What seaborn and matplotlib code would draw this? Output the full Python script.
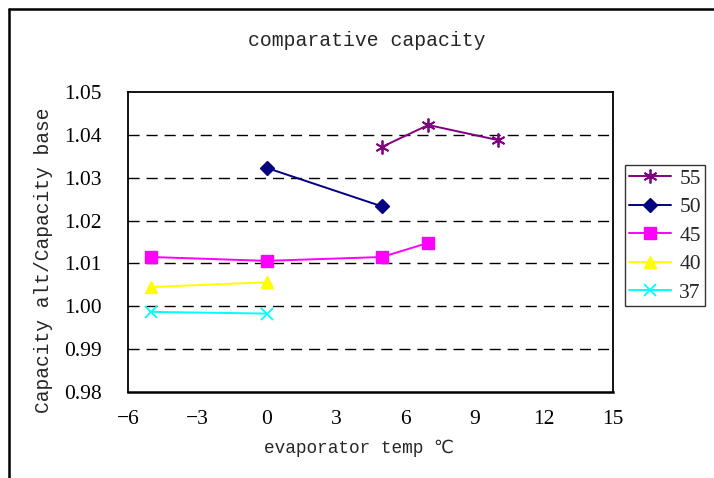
import matplotlib
matplotlib.use("Agg")
import matplotlib.pyplot as plt
from matplotlib.lines import Line2D
import seaborn as sns
import pandas as pd

sns.set_theme(style="white")
plt.rcParams["font.family"] = ["Liberation Serif", "DejaVu Sans"]

# condensing temperature series: evaporator temp (°C) vs capacity ratio
series_names = ["55", "50", "45", "40", "37"]
temps_55 = [5, 7, 10]
ratio_55 = [1.0372, 1.0423, 1.0388]
temps_50 = [0, 5]
ratio_50 = [1.0323, 1.0233]
temps_45 = [-5, 0, 5, 7]
ratio_45 = [1.0115, 1.0106, 1.0115, 1.0148]
temps_40 = [-5, 0]
ratio_40 = [1.0045, 1.0056]
temps_37 = [-5, 0]
ratio_37 = [0.9987, 0.9983]

x_ticks = [-6, -3, 0, 3, 6, 9, 12, 15]
y_ticks = [0.98, 0.99, 1.00, 1.01, 1.02, 1.03, 1.04, 1.05]

series = {
    "55": (temps_55, ratio_55),
    "50": (temps_50, ratio_50),
    "45": (temps_45, ratio_45),
    "40": (temps_40, ratio_40),
    "37": (temps_37, ratio_37),
}
colors = {"55": "#800080", "50": "#000080", "45": "#FF00FF",
          "40": "#FFFF00", "37": "#00FFFF"}
markers = {"55": (6, 2, 0), "50": "D", "45": "s", "40": "^", "37": "x"}
msizes = {"55": 10, "50": 7, "45": 8, "40": 9, "37": 9}
mews = {"55": 1.3, "50": 1.0, "45": 1.0, "40": 1.0, "37": 1.3}

fig = plt.figure(figsize=(7.14, 4.78), dpi=100)
fig.patch.set_facecolor("white")
ax = fig.add_axes([128 / 714, 1 - 392 / 478, (613 - 128) / 714, (392 - 92) / 478])

for name in series_names:
    xs, ys = series[name]
    df = pd.DataFrame({"temp": xs, "ratio": ys})
    sns.lineplot(data=df, x="temp", y="ratio", ax=ax, color=colors[name],
                 marker=markers[name], markersize=msizes[name],
                 markeredgecolor=colors[name], markerfacecolor=colors[name],
                 markeredgewidth=mews[name], linewidth=1.4, sort=False,
                 estimator=None, label=name)

ax.set_xlim(-6, 15)
ax.set_ylim(0.98, 1.05)
ax.set_xticks(x_ticks)
ax.set_xticklabels([f"{t}".replace("-", "\u2212") for t in x_ticks])
ax.set_yticks(y_ticks)
ax.set_yticklabels([f"{t:.2f}" for t in y_ticks])
ax.set_xlabel("")
ax.set_ylabel("")

for yv in y_ticks[1:-1]:
    ax.axhline(yv, color="black", linewidth=1.0, linestyle=(0, (8, 5)), zorder=0)

for side in ["left", "bottom", "right", "top"]:
    ax.spines[side].set_color("black")
    ax.spines[side].set_linewidth(1.3)
ax.spines["bottom"].set_linewidth(1.8)

ax.tick_params(axis="both", direction="in", length=5, width=1.0, color="#333333",
               labelsize=15.5, labelcolor="black")
ax.tick_params(axis="x", pad=13, top=False)
ax.tick_params(axis="y", pad=19, right=False)

mono = ["Liberation Mono", "DejaVu Sans Mono", "DejaVu Sans"]
fig.text(367 / 714, 1 - 40 / 478, "comparative capacity", family=mono,
         fontsize=14.2, ha="center", va="center")
fig.text(44 / 714, 1 - 260 / 478, "Capacity alt/Capacity base", family=mono,
         fontsize=14.1, rotation=90, ha="center", va="center")
fig.text(359 / 714, 1 - 448 / 478, "evaporator temp \u2103", family=mono,
         fontsize=12.8, ha="center", va="center")

leg = ax.legend(loc="upper left", bbox_to_anchor=(625 / 714, 1 - 165 / 478),
                bbox_transform=fig.transFigure, borderaxespad=0, frameon=True,
                fancybox=False, edgecolor="black", fontsize=15.5,
                handlelength=1.95, labelspacing=0.39, borderpad=0.17,
                handletextpad=0.4)
leg.get_frame().set_linewidth(1.0)

# chart frame
fig.add_artist(Line2D([9 / 714, 9 / 714], [0, 1 - 9 / 478], color="black",
                      linewidth=1.8, transform=fig.transFigure))
fig.add_artist(Line2D([9 / 714, 1], [1 - 9 / 478, 1 - 9 / 478], color="black",
                      linewidth=1.8, transform=fig.transFigure))

fig.savefig("out.png", dpi=100)
